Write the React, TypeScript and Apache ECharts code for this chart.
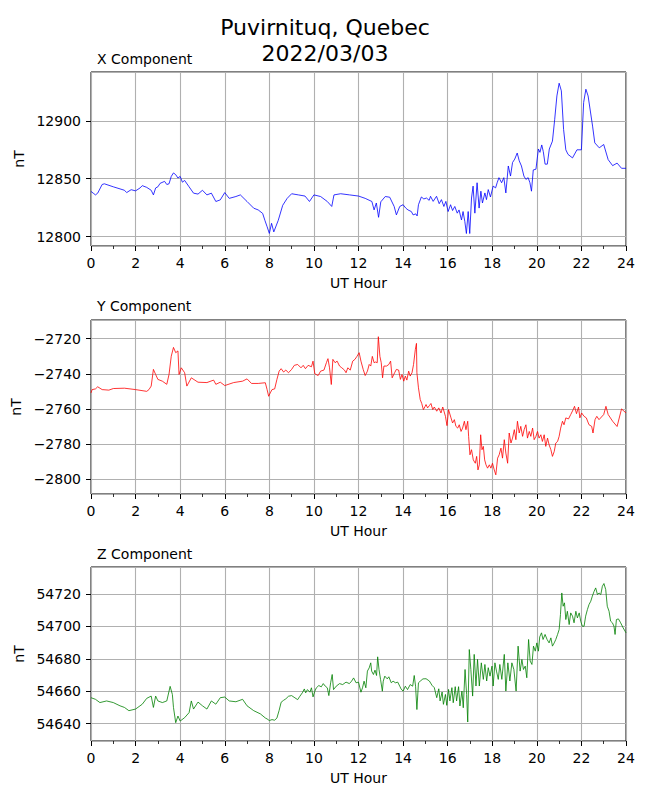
import React, { useEffect, useRef } from "react";
import * as echarts from "echarts";

const MAIN_TITLE = "Puvirnituq, Quebec";
const MAIN_SUBTITLE = "2022/03/03";
const PANEL_TITLES = ["X Component", "Y Component", "Z Component"];
const X_AXIS_NAME = "UT Hour";
const Y_AXIS_NAME = "nT";

// X component (nT)
const xHours = [
  0, 0.1, 0.2, 0.3, 0.5, 0.6,
  1.0, 1.5, 1.6, 1.8,
  2.0, 2.2, 2.3, 2.5, 2.7, 2.8, 2.9,
  3.0, 3.1, 3.3, 3.4, 3.5, 3.6, 3.7, 3.8, 3.9,
  4.0, 4.1, 4.2, 4.4, 4.6, 4.8,
  5.0, 5.2, 5.4, 5.6, 5.8,
  6.0, 6.2, 6.5, 6.7,
  7.0, 7.3, 7.5, 7.7, 7.8, 7.9,
  8.0, 8.1, 8.2, 8.4, 8.6, 8.8,
  9.0, 9.3, 9.6, 9.8,
  10.0, 10.3, 10.6, 10.8, 10.9,
  11.2, 11.6,
  12.0, 12.3, 12.6, 12.7, 12.8, 12.9,
  13.0, 13.2, 13.4, 13.6, 13.7,
  13.85, 14.0, 14.12, 14.22, 14.37, 14.45, 14.57, 14.63, 14.69, 14.82, 14.93,
  15.05, 15.17, 15.23, 15.35, 15.5, 15.62, 15.72, 15.83, 15.92,
  16.02, 16.13, 16.22, 16.32, 16.43, 16.51, 16.62, 16.69, 16.77, 16.84, 16.92, 16.99,
  17.07, 17.14, 17.22, 17.32, 17.41, 17.49, 17.56, 17.67, 17.74, 17.82, 17.92,
  18.04, 18.15, 18.22, 18.3, 18.42, 18.52, 18.61, 18.72, 18.82, 18.91,
  19.01, 19.12, 19.21, 19.31, 19.42, 19.51, 19.61, 19.69, 19.76, 19.84, 19.96,
  20.07, 20.14, 20.22, 20.29, 20.37, 20.47, 20.56,
  20.7, 20.8, 20.9,
  21.0, 21.1, 21.2, 21.3, 21.4, 21.6, 21.8,
  22.0, 22.1, 22.2, 22.3, 22.5, 22.6, 22.8,
  23.0, 23.2, 23.4, 23.6, 23.8, 24.0,
];
const xValues = [
  12839, 12837.5, 12836, 12837.5, 12845, 12845.6,
  12843, 12840, 12838, 12840.5,
  12839.5, 12842, 12844, 12842.5, 12840, 12836, 12842,
  12843, 12846, 12847.7, 12845, 12845.6, 12852, 12855, 12853.5, 12850.6,
  12852, 12847, 12848.5, 12843, 12837.5, 12836.7,
  12840, 12836, 12837.5, 12830.3, 12831.7,
  12838, 12833, 12834.6, 12836,
  12830.3, 12824.5, 12823, 12820, 12814, 12808.5,
  12802.7, 12811.4, 12804, 12814, 12827, 12833,
  12837, 12836, 12835, 12830.3,
  12836, 12834.6, 12830.3, 12826, 12836,
  12837, 12836,
  12835, 12833, 12830.3, 12823, 12829, 12816.6,
  12830, 12834.6, 12834, 12826, 12818.7,
  12826, 12827.5, 12824.6, 12823, 12821.6, 12818.7, 12819.6, 12817.8, 12827.5, 12834.2, 12832.5,
  12833.3, 12831.3, 12834.8, 12830.4, 12834.8, 12828.4, 12831.9, 12826, 12830.4,
  12821.6, 12827.5, 12822.5, 12826, 12820.2, 12823, 12814.3, 12821.6, 12812.9, 12802.6, 12821.6, 12802.6,
  12833.3, 12843.6, 12820.2, 12846.5, 12824.6, 12839.2, 12829, 12837.7, 12831.9, 12840.6, 12834.2,
  12843.6, 12842.1, 12846.5, 12850.9, 12846.5, 12850.9, 12837.7, 12861, 12852.3, 12864,
  12867, 12872.2, 12865.5, 12861, 12852.3, 12849.4, 12850.9, 12846.5, 12839.2, 12857.6, 12858.2,
  12875.7, 12872.8, 12879.2, 12873.4, 12862.6, 12862.6, 12875.7,
  12882.5, 12901, 12921.6,
  12932.6, 12926, 12892.6, 12875, 12871, 12868, 12875,
  12875, 12916, 12927.4, 12921.6, 12895.5, 12881, 12876.7,
  12879.6, 12866.5, 12861.3, 12863.5, 12859, 12859,
];

// Y component (nT)
const yHours = [
  0, 0.05, 0.2, 0.3, 0.5, 0.8,
  1.0, 1.5,
  2.0, 2.5, 2.6, 2.7, 2.8, 2.9,
  3.0, 3.2, 3.4, 3.5, 3.6, 3.7, 3.8, 3.9, 3.95,
  4.05, 4.2, 4.3, 4.5, 4.8,
  5.2, 5.5, 5.6, 5.8,
  6.0, 6.4, 6.8,
  7.0, 7.2, 7.5, 7.82, 7.9, 7.97,
  8.04, 8.12, 8.24, 8.34, 8.44, 8.53, 8.64, 8.74, 8.86,
  9.0, 9.12, 9.27, 9.42, 9.52, 9.62, 9.74, 9.89, 9.96,
  10.04, 10.19, 10.3, 10.45, 10.56, 10.63, 10.7, 10.78, 10.85, 10.95,
  11.04, 11.15, 11.25, 11.37, 11.44, 11.52, 11.63, 11.74, 11.84, 11.93,
  12.03, 12.11, 12.21, 12.3, 12.4, 12.48, 12.55, 12.62, 12.7, 12.77, 12.84, 12.89, 12.96,
  13.02, 13.08, 13.14, 13.26, 13.36, 13.44, 13.51, 13.62, 13.7, 13.8, 13.88, 13.95,
  14.03, 14.1, 14.17, 14.25, 14.32, 14.4, 14.47, 14.55, 14.6, 14.62, 14.69, 14.77, 14.84, 14.91, 14.99,
  15.03, 15.1, 15.18, 15.25, 15.33, 15.4, 15.51, 15.6, 15.7, 15.78, 15.9, 15.97,
  16.04, 16.15, 16.22, 16.3, 16.37, 16.45, 16.52, 16.6, 16.67, 16.75, 16.82, 16.9, 16.94,
  17.0, 17.07, 17.15, 17.24, 17.3, 17.36, 17.42, 17.48, 17.54, 17.6, 17.66, 17.72, 17.79, 17.87, 17.94,
  18.01, 18.09, 18.16, 18.24, 18.31, 18.39, 18.46, 18.54, 18.61, 18.69, 18.76, 18.84, 18.91, 18.99,
  19.06, 19.13, 19.21, 19.28, 19.36, 19.43, 19.51, 19.58, 19.66, 19.73, 19.81, 19.88, 19.96,
  20.03, 20.1, 20.18, 20.25, 20.33, 20.4, 20.48, 20.55, 20.63, 20.7, 20.78, 20.85, 20.93,
  21.0, 21.07, 21.15, 21.22, 21.3, 21.42, 21.52, 21.63, 21.69, 21.78, 21.87, 21.93,
  22.01, 22.12, 22.22, 22.34, 22.46, 22.52, 22.61, 22.69, 22.79,
  23.0, 23.1, 23.2, 23.4, 23.6, 23.8, 24.0,
];
const yValues = [
  -2750.9, -2749, -2748.6, -2747.4, -2749, -2749.3,
  -2748.4, -2748.2,
  -2749, -2750, -2749, -2747, -2737.5, -2740.4,
  -2743.2, -2744.2, -2746, -2740.4, -2730, -2725, -2728, -2727, -2740.4,
  -2736.6, -2739.4, -2747, -2742.3, -2744.8,
  -2745, -2743.6, -2746, -2744.8,
  -2746.7, -2745, -2744.2,
  -2742.9, -2745.5, -2745.5, -2745.1, -2749, -2752.8,
  -2750.9, -2749, -2748.6, -2743.2, -2738.5, -2737.1, -2739, -2737.9, -2739.4,
  -2737.5, -2735.2, -2734.7, -2736.6, -2735.2, -2737.1, -2735.2, -2736, -2732.8,
  -2740, -2741, -2738.5, -2737.9, -2733.7, -2731.4, -2736.6, -2746.1, -2731.8, -2733.7,
  -2732.8, -2735.6, -2736.6, -2737.9, -2739.4, -2736.6, -2737.9, -2732.8, -2731.8, -2730.1,
  -2728, -2732.8, -2737.5, -2741, -2738.5, -2734.7, -2735.6, -2730.1, -2733.7, -2733.3, -2733.7, -2718.9, -2730.1,
  -2733.7, -2742.3, -2735.6, -2735.6, -2734.7, -2732.8, -2742.3, -2739.4, -2737.5, -2737.9, -2743.2, -2740.4,
  -2744.2, -2741.3, -2743.6, -2738.5, -2741.3, -2739.4, -2734.7, -2726.1, -2722.7, -2739.4, -2748, -2754.7, -2757, -2760.4, -2758.5,
  -2757.5, -2759.4, -2758.1, -2756.9, -2760.4, -2758.9, -2761.3, -2759.4, -2762.3, -2758.9, -2764.2, -2769.5,
  -2760.4, -2765.1, -2768, -2766.1, -2769.9, -2770.9, -2769, -2772.8, -2770.9, -2767, -2771.8, -2767, -2775.6,
  -2786.1, -2783.2, -2789, -2790.9, -2787, -2794.7, -2791.8, -2774.7, -2783.2, -2781.3, -2789, -2791.8, -2793.7, -2791.8, -2793.7,
  -2790.9, -2794.7, -2797.5, -2788, -2786.1, -2782.3, -2788, -2777.5, -2785.1, -2790.9, -2773.7, -2779.4, -2776.6, -2771.8,
  -2777.5, -2767, -2773.7, -2769.9, -2775.6, -2771.8, -2769, -2776.6, -2772.8, -2775.6, -2770.9, -2777.5, -2775.6,
  -2772.8, -2776.6, -2774.7, -2778.5, -2774.7, -2781.3, -2776.6, -2780.4, -2783.2, -2787, -2784.2, -2779.4, -2778.5,
  -2775.6, -2770.9, -2767, -2769, -2765.1, -2765.7, -2763.2, -2760.4, -2758.5, -2762.7, -2758.9, -2765.1,
  -2762.3, -2764.2, -2765.1, -2769, -2769.9, -2773.7, -2766.1, -2764.2, -2766.1,
  -2763.2, -2758.5, -2763.2, -2767, -2770, -2760, -2762.3,
];

// Z component (nT)
const zHours = [
  0, 0.2, 0.4, 0.7,
  1.0, 1.3, 1.5, 1.7,
  2.0, 2.3, 2.5, 2.7, 2.8, 2.9,
  3.0, 3.2, 3.4, 3.5, 3.55, 3.65, 3.7, 3.8, 3.9,
  4.0, 4.2, 4.4, 4.5, 4.6, 4.8,
  5.0, 5.2, 5.4, 5.6, 5.8,
  6.0, 6.2, 6.5, 6.8,
  7.0, 7.3, 7.6, 7.82, 7.9,
  8.0, 8.12, 8.24, 8.34, 8.44, 8.53, 8.64, 8.74, 8.86,
  9.0, 9.15, 9.27, 9.37, 9.48, 9.57, 9.63, 9.71, 9.82, 9.89, 9.96,
  10.04, 10.11, 10.22, 10.33, 10.42, 10.51, 10.6, 10.67, 10.75, 10.82, 10.88,
  11.0, 11.15, 11.29, 11.44, 11.59, 11.69, 11.78, 11.89,
  12.0, 12.11, 12.18, 12.25, 12.33, 12.4, 12.48, 12.55, 12.59, 12.67, 12.74, 12.81, 12.86, 12.92, 12.99,
  13.07, 13.11, 13.18, 13.29, 13.36, 13.47, 13.55, 13.66, 13.76, 13.85, 13.91,
  14.0, 14.1, 14.2, 14.32, 14.43, 14.5, 14.56, 14.62, 14.69, 14.77, 14.89,
  15.03, 15.18, 15.3, 15.4, 15.51, 15.6, 15.66, 15.75, 15.81, 15.9, 15.96,
  16.04, 16.1, 16.19, 16.25, 16.34, 16.4, 16.49, 16.55, 16.64, 16.7, 16.78, 16.85, 16.9, 16.97,
  17.04, 17.12, 17.19, 17.27, 17.34, 17.42, 17.51, 17.6, 17.67, 17.75, 17.82, 17.9, 17.99,
  18.04, 18.12, 18.19, 18.27, 18.34, 18.43, 18.54, 18.61, 18.7, 18.79, 18.88, 18.97,
  19.07, 19.16, 19.25, 19.33, 19.4, 19.48, 19.55, 19.63, 19.7, 19.78, 19.85, 19.93,
  20.0, 20.07, 20.13, 20.21, 20.28, 20.37, 20.46, 20.55, 20.63, 20.7, 20.78, 20.85, 20.93,
  21.0, 21.06, 21.12, 21.18, 21.24, 21.3, 21.37, 21.45, 21.52, 21.6, 21.67, 21.75, 21.82, 21.9, 21.97,
  22.04, 22.12, 22.19, 22.27, 22.34, 22.42, 22.49, 22.57, 22.64, 22.72, 22.79, 22.87, 22.94,
  23.01, 23.09, 23.16, 23.24, 23.31, 23.39, 23.46, 23.51, 23.57, 23.66, 23.76, 23.87, 23.96, 24.0,
];
const zValues = [
  54656, 54655, 54653, 54654,
  54653, 54651, 54650, 54648,
  54649, 54652, 54655.6, 54657, 54650, 54657,
  54654, 54653, 54654, 54660, 54663, 54658, 54650, 54640.6, 54644.7,
  54641.6, 54643.7, 54646.8, 54654, 54649, 54653.3,
  54651, 54649, 54654, 54652, 54656,
  54656.4, 54654, 54653.5, 54655,
  54651, 54648, 54646, 54643.5, 54642.9,
  54641.9, 54642.5, 54642.1, 54643.5, 54648.2, 54653.2, 54654.4, 54655.3, 54656.9,
  54657.3, 54655.9, 54654.8, 54656.9, 54659, 54661.4, 54659, 54661, 54659.4, 54662.1, 54656.5,
  54660, 54662.1, 54663.5, 54662.7, 54664.7, 54663.1, 54662.1, 54657.3, 54665.2, 54670.3, 54661,
  54663.1, 54664.7, 54664.1, 54665.6, 54664.7, 54666.2, 54668.2, 54665.2,
  54665.6, 54659.4, 54662.1, 54666.2, 54662.1, 54672.4, 54674.4, 54677.5, 54672.4, 54670.3, 54673, 54669.7, 54681.2, 54673.4, 54667.2,
  54660, 54666.2, 54669.3, 54667.6, 54668.9, 54665.2, 54666.2, 54665.2, 54665.6, 54663.1, 54661.4,
  54660, 54663.1, 54661, 54664.1, 54663.1, 54669.7, 54663.1, 54648.7, 54665.2, 54666.2, 54667.6,
  54667.7, 54666.3, 54663.6, 54662.2, 54656, 54661.5, 54654, 54659.5, 54651.9, 54658, 54651.3,
  54661.1, 54654, 54662.2, 54652.9, 54662.8, 54654, 54662.8, 54650.9, 54660.1, 54649.8, 54673.4, 54658, 54641, 54685.7,
  54673.4, 54657, 54682.7, 54663.2, 54679.6, 54663.2, 54677.5, 54667.3, 54676.5, 54666.3, 54674.5, 54669.3, 54675.5,
  54663.2, 54677.5, 54672.4, 54667.3, 54676.5, 54667.3, 54682.7, 54660.1, 54677.5, 54666.3, 54677.5, 54673.4,
  54660.1, 54687.8, 54672.4, 54679.6, 54673.4, 54675.5, 54668.3, 54691.9, 54678.6, 54676.5, 54687.8, 54684.7,
  54689.8, 54684.7, 54693.5, 54696, 54691.9, 54695, 54691.9, 54689.8, 54692.9, 54687.8, 54689.8, 54691.9, 54695,
  54698, 54707.3, 54720.6, 54712.4, 54714.5, 54704.2, 54709.3, 54701.1, 54708.3, 54706.3, 54702.2, 54709.3, 54705.2, 54708.3, 54703.2,
  54700.1, 54700.1, 54706.3, 54710.4, 54713.4, 54715.5, 54718.6, 54721.6, 54723.7, 54719.6, 54720.6, 54719.6, 54724.7,
  54726.4, 54722.7, 54712.4, 54709.3, 54703.2, 54702.2, 54700.1, 54695, 54704.2, 54704.6, 54702.2, 54699.1, 54697, 54696,
];

// axis extents and tick steps
const HOUR_MIN = 0;
const HOUR_MAX = 24;
const HOUR_STEP = 2;
const Y_EXTENTS = [
  [12791.8, 12942.3],
  [-2808.4, -2709.4],
  [54629.3, 54736.6],
];
const Y_STEPS = [50, 20, 20];

const SERIES = [
  { hours: xHours, values: xValues, color: "#0000ff" },
  { hours: yHours, values: yValues, color: "#ff0000" },
  { hours: zHours, values: zValues, color: "#008000" },
];

const FONT = "DejaVu Sans";

export default function App() {
  const ref = useRef<HTMLDivElement>(null);

  useEffect(() => {
    if (!ref.current) return;
    const chart = echarts.init(ref.current, null, { renderer: "svg" });
    const tops = [72, 320, 567];
    const titleTops = [52, 299, 547];
    const grids = tops.map((t) => ({
      left: 91,
      top: t,
      width: 535,
      height: 174,
      show: true,
      borderColor: "#000",
      borderWidth: 1,
      backgroundColor: "#fff",
      z: 0,
    }));

    const xAxes = tops.map((_, i) => ({
      type: "value",
      gridIndex: i,
      min: HOUR_MIN,
      max: HOUR_MAX,
      interval: HOUR_STEP,
      name: X_AXIS_NAME,
      nameLocation: "middle",
      nameGap: 30,
      nameTextStyle: { fontFamily: FONT, fontSize: 14, color: "#000" },
      axisLine: { show: false, onZero: false },
      axisTick: { show: true, length: 5, lineStyle: { color: "#000", width: 1 } },
      minorTick: { show: true, splitNumber: 2, length: 3, lineStyle: { color: "#000", width: 0.8 } },
      axisLabel: { margin: 10, fontFamily: FONT, fontSize: 14, color: "#000" },
      splitLine: { show: true, lineStyle: { color: "#b0b0b0", width: 1.1 } },
    }));

    const yAxes = tops.map((_, i) => {
      const step = Y_STEPS[i];
      return {
        type: "value",
        gridIndex: i,
        min: Y_EXTENTS[i][0],
        max: Y_EXTENTS[i][1],
        minInterval: step,
        maxInterval: step,
        splitNumber: 5,
        scale: true,
        name: Y_AXIS_NAME,
        nameLocation: "middle",
        nameGap: 53,
        nameTextStyle: { fontFamily: FONT, fontSize: 14, color: "#000" },
        axisLine: { show: false, onZero: false },
        axisTick: { show: true, length: 5, lineStyle: { color: "#000", width: 1 } },
        axisLabel: {
          margin: 10,
          fontFamily: FONT,
          fontSize: 14,
          color: "#000",
          showMinLabel: false,
          showMaxLabel: false,
          formatter: (v: number) => {
            const r = v / step;
            if (Math.abs(r - Math.round(r)) > 1e-6) return "";
            return String(Math.round(v)).replace("-", "\u2212");
          },
        },
        splitLine: { show: true, lineStyle: { color: "#b0b0b0", width: 1.1 } },
      };
    });

    const series = SERIES.map((s, i) => ({
      type: "line",
      xAxisIndex: i,
      yAxisIndex: i,
      data: s.hours.map((h, j) => [h, s.values[j]]),
      showSymbol: false,
      symbol: "none",
      lineStyle: { color: s.color, width: 0.8 },
      itemStyle: { color: s.color },
      clip: true,
      z: 5,
    }));

    const titles: any[] = [
      {
        text: MAIN_TITLE,
        left: "center",
        top: 16,
        padding: 0,
        textStyle: { fontFamily: FONT, fontSize: 22, fontWeight: "normal", color: "#000" },
      },
      {
        text: MAIN_SUBTITLE,
        left: "center",
        top: 42,
        padding: 0,
        textStyle: { fontFamily: FONT, fontSize: 22, fontWeight: "normal", color: "#000" },
      },
      ...PANEL_TITLES.map((t, i) => ({
        text: t,
        left: 97,
        top: titleTops[i],
        padding: 0,
        textStyle: { fontFamily: FONT, fontSize: 14, fontWeight: "normal", color: "#000" },
      })),
    ];

    chart.setOption({
      animation: false,
      backgroundColor: "#fff",
      textStyle: { fontFamily: FONT },
      title: titles,
      grid: grids,
      xAxis: xAxes,
      yAxis: yAxes,
      series,
    });
    return () => chart.dispose();
  }, []);

  return (
    <div
      ref={ref}
      style={{ position: "absolute", left: 0, top: 0, width: 650, height: 800, background: "#fff" }}
    />
  );
}
